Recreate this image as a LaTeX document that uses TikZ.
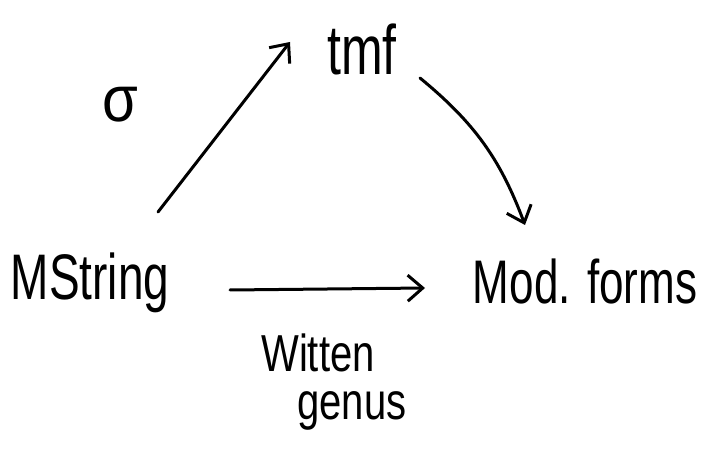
\documentclass[tikz,border=0pt]{standalone}
\usepackage{fontspec}
\setmainfont{Liberation Sans}
\usetikzlibrary{arrows.meta}
\begin{document}
\begin{tikzpicture}[x=1pt,y=1pt,
  lbl/.style={inner sep=0pt,transform shape,yscale=1.4,font=\fontsize{46}{50}\selectfont},
  sub/.style={inner sep=0pt,transform shape,yscale=1.3,font=\fontsize{40}{44}\selectfont},
  arr/.style={line width=3pt,line cap=round,-{Straight Barb[length=15pt,width=26pt,line width=3pt]}}]
\useasboundingbox (0,0) rectangle (715,461);
\node[lbl] (ms) at (90,178) {MString};
\node[lbl,font=\fontsize{50}{54}\selectfont] (tmf) at (362,412) {tmf};
\node[lbl,font=\fontsize{44}{48}\selectfont] (mf) at (585,180) {Mod. forms};
\node[lbl,yscale=0.8,font=\fontsize{58}{60}\selectfont] (sig) at (120,356) {σ};
\node[sub] (wit) at (318,108) {Witten};
\node[sub] (gen) at (352,50) {genus};
\draw[arr] ([xshift=68pt,yshift=71pt]ms.center) -- ([xshift=-72pt,yshift=7pt]tmf.center);
\draw[arr] ([xshift=58pt,yshift=-29pt]tmf.center) to[bend left=15] ([xshift=-60pt,yshift=56pt]mf.center);
\draw[arr] ([xshift=140pt,yshift=-7pt]ms.center) -- ([xshift=-160pt,yshift=-7pt]mf.center);
\end{tikzpicture}
\end{document}
